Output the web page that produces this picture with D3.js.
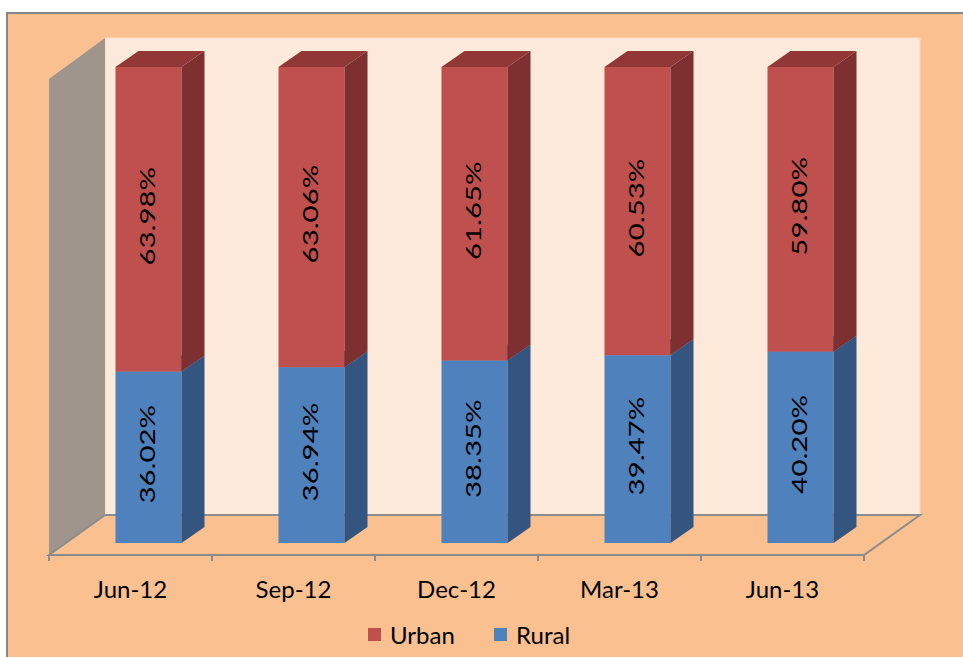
<!DOCTYPE html>
<html>
<head>
<meta charset="utf-8">
<script src="https://cdn.jsdelivr.net/npm/d3@7"></script>
<style>
  body { margin: 0; background: #fff; }
  svg { display: block; }
  text { font-family: Lato, "Open Sans", sans-serif; fill: #000; }
</style>
</head>
<body>
<div id="chart"></div>
<script>
// Données
const categories = ["Jun-12", "Sep-12", "Dec-12", "Mar-13", "Jun-13"];
const rural = [36.02, 36.94, 38.35, 39.47, 40.20];
const urban = [63.98, 63.06, 61.65, 60.53, 59.80];
const seriesNames = ["Urban", "Rural"];

const W = 963, H = 657;
const svg = d3.select("#chart").append("svg")
  .attr("width", W).attr("height", H);

// Fond du graphique
svg.append("rect")
  .attr("x", 7).attr("y", 13).attr("width", W).attr("height", H)
  .attr("fill", "#FAC090").attr("stroke", "#878787").attr("stroke-width", 2);

// Géométrie 3D
const floorY = 555, backY = 515, depthX = 56;
const left = 49, right = 864, wallTop = 38;

// Échelles
const x = d3.scaleBand().domain(categories).range([left, right]);
const y = d3.scaleLinear().domain([0, 100]).range([543, 67]);
const barW = x.bandwidth() * 0.405;
const offX = 18, bdx = 23, bdy = 16;

// Mur du fond
svg.append("rect")
  .attr("x", left + depthX).attr("y", wallTop)
  .attr("width", right - left).attr("height", backY - wallTop)
  .attr("fill", "#FDEADA").attr("stroke", "#F7D9C0").attr("stroke-width", 1);

// Mur latéral
svg.append("polygon")
  .attr("points", [[left, wallTop + 41], [left + depthX, wallTop], [left + depthX, backY], [left, floorY]].join(" "))
  .attr("fill", "#A0958C");

// Sol
svg.append("polygon")
  .attr("points", [[left, floorY], [left + depthX, backY], [right + depthX, backY], [right, floorY]].join(" "))
  .attr("fill", "#FAC090").attr("stroke", "#8C8C8C").attr("stroke-width", 2);

// Graduations
svg.append("g").selectAll("line")
  .data(categories.concat([null]))
  .join("line")
  .attr("x1", (d, i) => left + i * x.step())
  .attr("x2", (d, i) => left + i * x.step())
  .attr("y1", floorY).attr("y2", floorY + 6)
  .attr("stroke", "#8C8C8C").attr("stroke-width", 2);

// Barres empilées
const colors = {
  Rural: { front: "#4F81BD", side: "#34557F", top: "#3E6799" },
  Urban: { front: "#C0504D", side: "#7E3030", top: "#913836" }
};

categories.forEach((c, i) => {
  const bx = x(c) + x.bandwidth() / 2 - barW / 2 + offX;
  const segs = [
    { name: "Rural", y0: 0, y1: rural[i], v: rural[i] },
    { name: "Urban", y0: rural[i], y1: rural[i] + urban[i], v: urban[i] }
  ];
  segs.forEach(s => {
    const col = colors[s.name];
    const yt = y(s.y1), yb = y(s.y0);
    // face avant
    svg.append("rect")
      .attr("x", bx).attr("y", yt).attr("width", barW).attr("height", yb - yt)
      .attr("fill", col.front);
    // côté droit
    svg.append("polygon")
      .attr("points", [[bx + barW, yb], [bx + barW + bdx, yb - bdy], [bx + barW + bdx, yt - bdy], [bx + barW, yt]].join(" "))
      .attr("fill", col.side);
    // dessus
    svg.append("polygon")
      .attr("points", [[bx, yt], [bx + bdx, yt - bdy], [bx + barW + bdx, yt - bdy], [bx + barW, yt]].join(" "))
      .attr("fill", col.top);
    // étiquette
    svg.append("text")
      .attr("transform", `translate(${bx + barW / 2 + 6},${(yt + yb) / 2 - 3}) rotate(-90) scale(1.4,1)`)
      .attr("text-anchor", "middle")
      .attr("font-size", 21)
      .text(s.v.toFixed(2) + "%");
  });
});

// Étiquettes des catégories
svg.append("g").selectAll("text")
  .data(categories)
  .join("text")
  .attr("x", d => x(d) + x.bandwidth() / 2)
  .attr("y", 598)
  .attr("text-anchor", "middle")
  .attr("font-size", 24)
  .text(d => d);

// Légende
const legend = svg.append("g");
const lx = [368, 494];
seriesNames.forEach((n, i) => {
  legend.append("rect")
    .attr("x", lx[i]).attr("y", 628).attr("width", 13).attr("height", 13)
    .attr("fill", colors[n].front);
  legend.append("text")
    .attr("x", lx[i] + 22).attr("y", 644)
    .attr("font-size", 24)
    .text(n);
});
</script>
</body>
</html>
